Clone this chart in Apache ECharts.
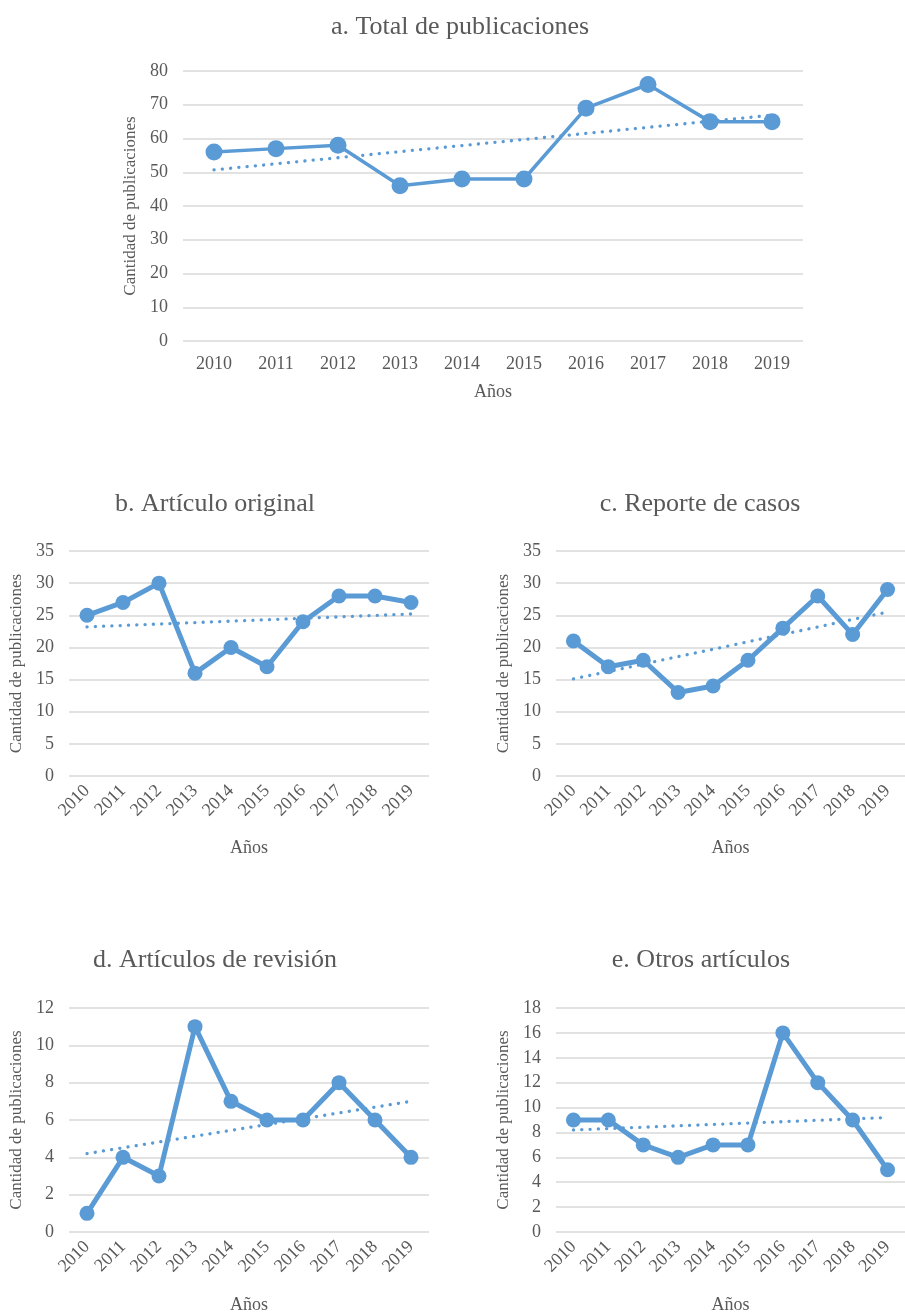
<!DOCTYPE html>
<html>
<head>
<meta charset="utf-8">
<title>Publicaciones por año</title>
<script src="https://cdn.jsdelivr.net/npm/echarts@6/dist/echarts.min.js"></script>
<style>
  html, body { margin: 0; padding: 0; background: #fff; }
  #chart { width: 905px; height: 1315px; }
</style>
</head>
<body>
<div id="chart"></div>
<script>
// data
var years = ['2010', '2011', '2012', '2013', '2014', '2015', '2016', '2017', '2018', '2019'];

var totalValues = [56, 57, 58, 46, 48, 48, 69, 76, 65, 65];
var originalValues = [25, 27, 30, 16, 20, 17, 24, 28, 28, 27];
var casesValues = [21, 17, 18, 13, 14, 18, 23, 28, 22, 29];
var reviewValues = [1, 4, 3, 11, 7, 6, 6, 8, 6, 4];
var otherValues = [9, 9, 7, 6, 7, 7, 16, 12, 9, 5];

// dotted trend line, value at 2010 and at 2019
var totalTrend = [50.7, 66.9];
var originalTrend = [23.2, 25.2];
var casesTrend = [15.1, 25.5];
var reviewTrend = [4.2, 7.0];
var otherTrend = [8.2, 9.2];

var titles = ['a. Total de publicaciones', 'b. Artículo original', 'c. Reporte de casos',
  'd. Artículos de revisión', 'e. Otros artículos'];
var yMax = [80, 35, 35, 12, 18];
var yStep = [10, 5, 5, 2, 2];
var xName = 'Años';
var yName = 'Cantidad de publicaciones';

var allValues = [totalValues, originalValues, casesValues, reviewValues, otherValues];
var allTrends = [totalTrend, originalTrend, casesTrend, reviewTrend, otherTrend];

// panel layout
var panels = [
  { left: 183, top: 71, width: 620, height: 270, titleX: 460, titleY: 14, rotate: 0, labelGap: 14, nameGap: 42, line: 3.5, dot: 17 },
  { left: 69, top: 551, width: 360, height: 225, titleX: 215, titleY: 491, rotate: 45, labelGap: 12, nameGap: 63, line: 5, dot: 15 },
  { left: 556, top: 551, width: 360, height: 225, titleX: 700, titleY: 491, rotate: 45, labelGap: 12, nameGap: 63, line: 5, dot: 15 },
  { left: 69, top: 1008, width: 360, height: 225, titleX: 215, titleY: 947, rotate: 45, labelGap: 12, nameGap: 64, line: 5, dot: 15 },
  { left: 556, top: 1008, width: 360, height: 225, titleX: 701, titleY: 947, rotate: 45, labelGap: 12, nameGap: 64, line: 5, dot: 15 }
];

var blue = '#5B9BD5';
var textColor = '#595959';
var font = "'Liberation Serif', 'Times New Roman', serif";

var option = {
  animation: false,
  backgroundColor: '#fff',
  textStyle: { fontFamily: font, color: textColor },
  title: [],
  grid: [],
  xAxis: [],
  yAxis: [],
  series: []
};

panels.forEach(function (p, i) {
  option.title.push({
    text: titles[i],
    left: p.titleX,
    top: p.titleY,
    textAlign: 'center',
    padding: 0,
    textStyle: { fontFamily: font, fontSize: 26, fontWeight: 'normal', color: textColor }
  });
  option.grid.push({ left: p.left, top: p.top, width: p.width, height: p.height, containLabel: false });
  option.xAxis.push({
    type: 'category',
    gridIndex: i,
    data: years,
    boundaryGap: true,
    name: xName,
    nameLocation: 'middle',
    nameGap: p.nameGap,
    nameTextStyle: { fontFamily: font, fontSize: 18, color: textColor },
    axisLine: { show: false },
    axisTick: { show: false },
    axisLabel: { fontFamily: font, fontSize: 18, color: textColor, margin: p.labelGap, rotate: p.rotate, interval: 0 }
  });
  option.yAxis.push({
    type: 'value',
    gridIndex: i,
    min: 0,
    max: yMax[i],
    interval: yStep[i],
    name: yName,
    nameLocation: 'middle',
    nameGap: 44,
    nameTextStyle: { fontFamily: font, fontSize: 17, color: textColor },
    axisLine: { show: false },
    axisTick: { show: false },
    axisLabel: { fontFamily: font, fontSize: 18, color: textColor, margin: 15 },
    splitLine: { lineStyle: { color: '#D9D9D9', width: 1.5 } }
  });
  option.series.push({
    type: 'line',
    xAxisIndex: i,
    yAxisIndex: i,
    data: allValues[i],
    symbol: 'circle',
    symbolSize: p.dot,
    itemStyle: { color: blue },
    lineStyle: { color: blue, width: p.line }
  });
  var trendData = years.map(function () { return '-'; });
  trendData[0] = allTrends[i][0];
  trendData[years.length - 1] = allTrends[i][1];
  option.series.push({
    type: 'line',
    xAxisIndex: i,
    yAxisIndex: i,
    data: trendData,
    connectNulls: true,
    symbol: 'none',
    z: 3,
    lineStyle: { color: blue, width: 3.3, type: [0.1, 8.2], cap: 'round' }
  });
});

var chart = echarts.init(document.getElementById('chart'));
chart.setOption(option);
</script>
</body>
</html>
